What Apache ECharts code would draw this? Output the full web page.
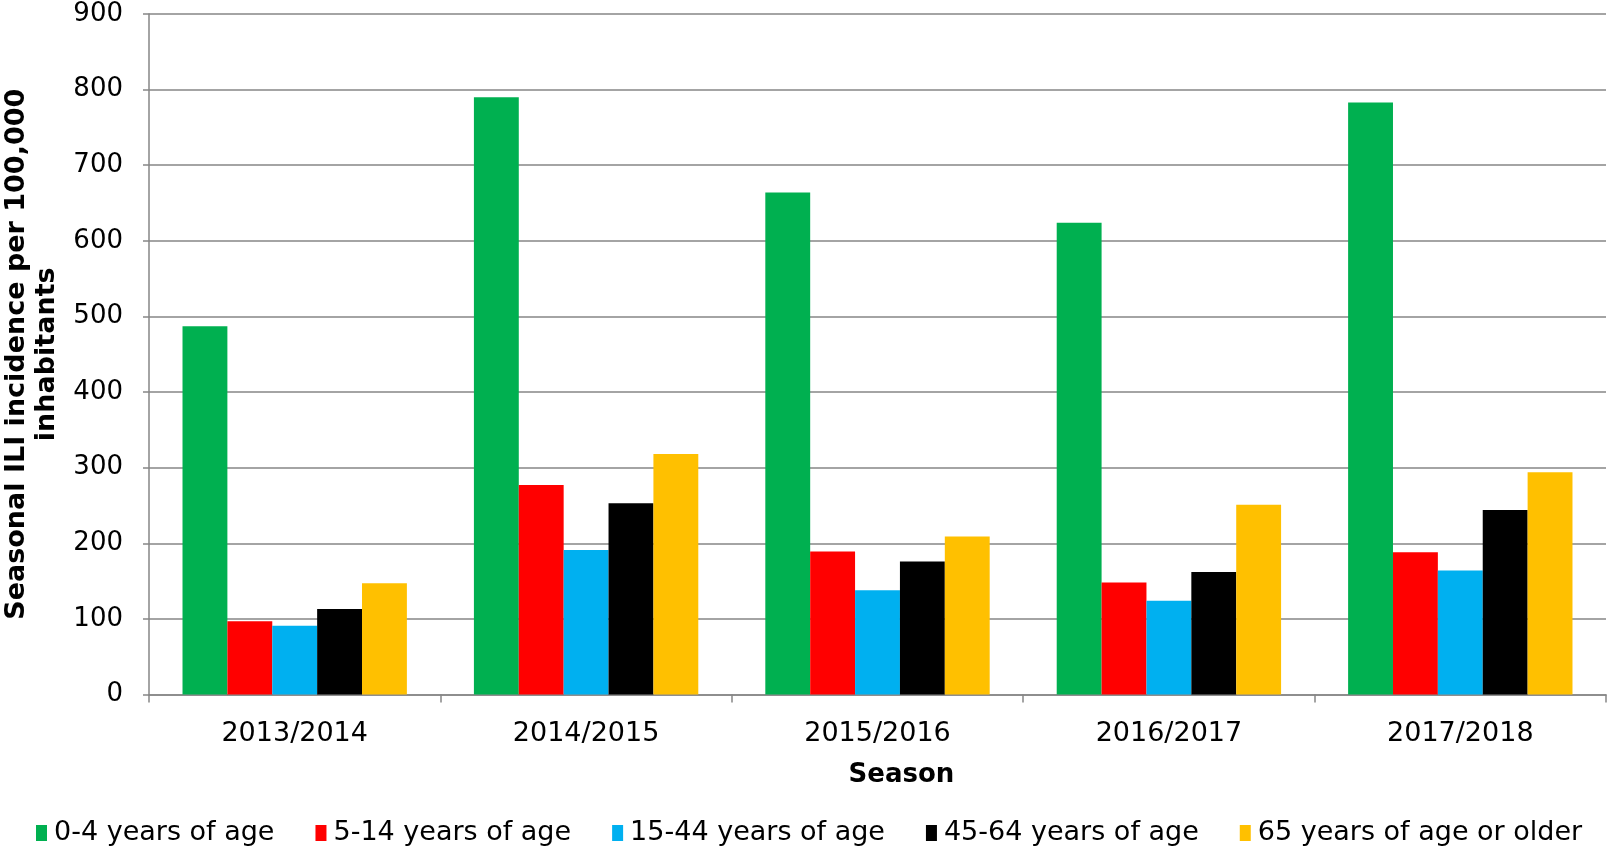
<!DOCTYPE html>
<html>
<head>
<meta charset="utf-8">
<script src="https://cdn.jsdelivr.net/npm/echarts@6/dist/echarts.min.js"></script>
<style>
html,body{margin:0;padding:0;background:#fff;}
#chart{width:1611px;height:849px;}
</style>
</head>
<body>
<div id="chart"></div>
<script>
const seasons = ['2013/2014', '2014/2015', '2015/2016', '2016/2017', '2017/2018'];
const seriesNames = ['0-4 years of age', '5-14 years of age', '15-44 years of age', '45-64 years of age', '65 years of age or older'];
const age0to4 = [487, 790, 664, 624, 783];
const age5to14 = [97, 277, 189, 148, 188];
const age15to44 = [91, 191, 138, 124, 164];
const age45to64 = [113, 253, 176, 162, 244];
const age65plus = [147, 318, 209, 251, 294];
const yTicks = [0, 900, 100]; // min, max, interval
const colors = ['#00B050', '#FF0000', '#00B0F0', '#000000', '#FFC000'];

const values = [age0to4, age5to14, age15to44, age45to64, age65plus];
const font = 'DejaVu Sans, Verdana, sans-serif';

const chart = echarts.init(document.getElementById('chart'), null, {renderer: 'canvas'});
chart.setOption({
  animation: false,
  backgroundColor: '#ffffff',
  textStyle: {fontFamily: font},
  grid: {left: 149, right: 5, top: 14, bottom: 154.5, containLabel: false, outerBoundsMode: 'none'},
  legend: {
    data: seriesNames,
    left: 36,
    top: 818,
    padding: 0,
    icon: 'rect',
    itemWidth: 11,
    itemHeight: 16,
    itemGap: 41,
    textStyle: {fontSize: 27, color: '#000', fontFamily: font, lineHeight: 30, padding: [0, 0, 0, 2]}
  },
  xAxis: {
    type: 'category',
    data: seasons,
    name: 'Season',
    nameLocation: 'middle',
    nameGap: 66,
    nameTextStyle: {fontSize: 26, fontWeight: 'bold', color: '#000', fontFamily: font, lineHeight: 30, padding: [0, 0, 0, 48]},
    axisLine: {show: true, lineStyle: {color: '#868686', width: 1.5}},
    axisTick: {show: true, length: 8, alignWithLabel: false, lineStyle: {color: '#868686', width: 1.5}},
    axisLabel: {fontSize: 27, color: '#000', margin: 26, fontFamily: font, lineHeight: 26}
  },
  yAxis: {
    type: 'value',
    min: yTicks[0],
    max: yTicks[1],
    interval: yTicks[2],
    name: 'Seasonal ILI incidence per 100,000\ninhabitants',
    nameLocation: 'middle',
    nameGap: 74,
    nameTextStyle: {fontSize: 27, fontWeight: 'bold', color: '#000', fontFamily: font, lineHeight: 30, align: 'center'},
    axisLine: {show: true, lineStyle: {color: '#868686', width: 1.5}},
    axisTick: {show: true, length: 6, lineStyle: {color: '#868686', width: 1.5}},
    splitLine: {show: true, lineStyle: {color: '#868686', width: 1.5}},
    axisLabel: {fontSize: 26, color: '#000', margin: 26, fontFamily: font}
  },
  series: seriesNames.map((n, i) => ({
    name: n,
    type: 'bar',
    data: values[i],
    barGap: '0%',
    barCategoryGap: '23%',
    itemStyle: {color: colors[i]}
  }))
});
</script>
</body>
</html>
